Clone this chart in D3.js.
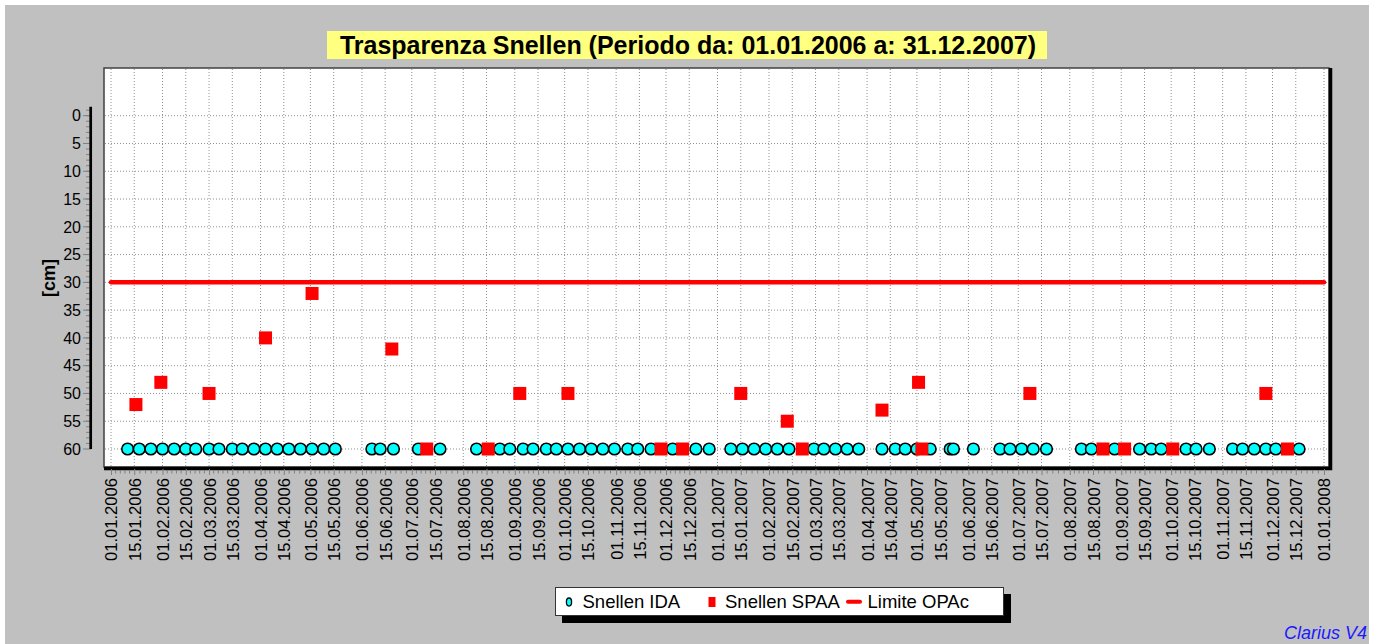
<!DOCTYPE html>
<html>
<head>
<meta charset="utf-8">
<script src="https://cdn.jsdelivr.net/npm/d3@7"></script>
<style>
  body { margin: 0; background: #fff; }
  text { font-family: "Liberation Sans", Arial, sans-serif; }
</style>
</head>
<body>
<script>
var width = 1375;
var height = 644;

// chart data
var titleText = "Trasparenza Snellen (Periodo da: 01.01.2006 a: 31.12.2007)";
var yLabel = "[cm]";
var legendLabels = ["Snellen IDA", "Snellen SPAA", "Limite OPAc"];

// Snellen IDA - every reading at the bottom (60 cm)
var idaDates = [
  "2006-01-11", "2006-01-18", "2006-01-25", "2006-02-01", "2006-02-08", "2006-02-15",
  "2006-02-21", "2006-03-01", "2006-03-07", "2006-03-15", "2006-03-21", "2006-03-28",
  "2006-04-04", "2006-04-11", "2006-04-18", "2006-04-25", "2006-05-02", "2006-05-09",
  "2006-05-16", "2006-06-07", "2006-06-12", "2006-06-20", "2006-07-05", "2006-07-18",
  "2006-08-09", "2006-08-23", "2006-08-29", "2006-09-06", "2006-09-12", "2006-09-20",
  "2006-09-26", "2006-10-03", "2006-10-10", "2006-10-17", "2006-10-24", "2006-10-31",
  "2006-11-08", "2006-11-14", "2006-11-22", "2006-12-05", "2006-12-19", "2006-12-27",
  "2007-01-09", "2007-01-16", "2007-01-23", "2007-01-30", "2007-02-06", "2007-02-13",
  "2007-02-28", "2007-03-06", "2007-03-13", "2007-03-20", "2007-03-27", "2007-04-10",
  "2007-04-18", "2007-04-24", "2007-05-01", "2007-05-09", "2007-05-21", "2007-05-23",
  "2007-06-04", "2007-06-20", "2007-06-26", "2007-07-03", "2007-07-10", "2007-07-18",
  "2007-08-08", "2007-08-14", "2007-08-28", "2007-09-12", "2007-09-19", "2007-09-25",
  "2007-10-10", "2007-10-16", "2007-10-24", "2007-11-07", "2007-11-13", "2007-11-20",
  "2007-11-27", "2007-12-03", "2007-12-17"
];
var idaValues = idaDates.map(function() { return 60; });

// Snellen SPAA
var spaaDates = [
  "2006-01-16", "2006-01-31", "2006-03-01", "2006-04-04", "2006-05-02", "2006-06-19",
  "2006-07-10", "2006-08-16", "2006-09-04", "2006-10-03", "2006-11-28", "2006-12-11",
  "2007-01-15", "2007-02-12", "2007-02-21", "2007-04-10", "2007-05-02", "2007-05-04",
  "2007-07-08", "2007-08-21", "2007-09-03", "2007-10-02", "2007-11-27", "2007-12-10"
];
var spaaValues = [
  52, 48, 50, 40, 32, 42,
  60, 60, 50, 50, 60, 60,
  50, 55, 60, 53, 48, 60,
  50, 60, 60, 60, 50, 60
];

// Limite OPAc
var limitValue = 30;
var limitRange = ["2006-01-01", "2008-01-01"];

var yTicks = [0, 5, 10, 15, 20, 25, 30, 35, 40, 45, 50, 55, 60];

var parseDate = d3.timeParse("%Y-%m-%d");
var fmtDate = d3.timeFormat("%d.%m.%Y");

// plot box
var plotLeft = 104, plotRight = 1329, plotTop = 68, plotBottom = 467;

function main() {
  var start = parseDate(limitRange[0]);
  var end = parseDate(limitRange[1]);

  var xScale = d3.scaleTime()
    .domain([start, end])
    .range([111, 1324]);

  var yScale = d3.scaleLinear()
    .domain([0, 60])
    .range([115.7, 449]);

  // ticks on the 1st and the 15th of every month
  var xTicks = [];
  d3.timeMonth.range(start, end).forEach(function(m) {
    xTicks.push(m);
    xTicks.push(new Date(m.getFullYear(), m.getMonth(), 15));
  });
  xTicks.push(end);

  var svg = d3.select("body")
    .append("svg")
    .attr("width", width)
    .attr("height", height);

  // background
  svg.append("rect")
    .attr("x", 5).attr("y", 5)
    .attr("width", 1364).attr("height", height)
    .attr("fill", "#c0c0c0");

  // title
  svg.append("rect")
    .attr("x", 327).attr("y", 31)
    .attr("width", 720).attr("height", 28)
    .attr("fill", "#ffff80");
  svg.append("text")
    .attr("x", 688).attr("y", 53.5)
    .attr("text-anchor", "middle")
    .attr("font-size", "25px")
    .attr("font-weight", "bold")
    .attr("fill", "#000")
    .text(titleText);

  // plot area with dark shadow on bottom and right
  svg.append("rect")
    .attr("x", plotLeft).attr("y", plotTop)
    .attr("width", plotRight - plotLeft).attr("height", plotBottom - plotTop)
    .attr("fill", "#fff")
    .attr("stroke", "#404040")
    .attr("stroke-width", 1.5);
  svg.append("path")
    .attr("d", "M" + plotLeft + "," + (plotBottom + 1.5) + "H" + (plotRight + 1.5) + "V" + plotTop)
    .attr("fill", "none")
    .attr("stroke", "#000")
    .attr("stroke-width", 3.5);

  // grid
  svg.append("g")
    .selectAll("line")
    .data(yTicks)
    .enter()
    .append("line")
    .attr("x1", plotLeft + 1).attr("x2", plotRight - 1)
    .attr("y1", function(d) { return yScale(d); })
    .attr("y2", function(d) { return yScale(d); })
    .attr("stroke", "#909090")
    .attr("stroke-dasharray", "1,2");
  svg.append("g")
    .selectAll("line")
    .data(xTicks)
    .enter()
    .append("line")
    .attr("x1", function(d) { return xScale(d); })
    .attr("x2", function(d) { return xScale(d); })
    .attr("y1", plotTop + 1).attr("y2", plotBottom - 1)
    .attr("stroke", "#909090")
    .attr("stroke-dasharray", "1,2");

  // y axis (separate from the plot box)
  var yAxis = svg.append("g");
  yAxis.selectAll("line.minor")
    .data(d3.range(-1, 60))
    .enter()
    .append("line")
    .attr("class", "minor")
    .attr("x1", 86).attr("x2", 91)
    .attr("y1", function(d) { return yScale(d); })
    .attr("y2", function(d) { return yScale(d); })
    .attr("stroke", "#808080");
  yAxis.selectAll("line.major")
    .data(yTicks)
    .enter()
    .append("line")
    .attr("class", "major")
    .attr("x1", 83).attr("x2", 91)
    .attr("y1", function(d) { return yScale(d); })
    .attr("y2", function(d) { return yScale(d); })
    .attr("stroke", "#808080");
  yAxis.append("line")
    .attr("x1", 90.7).attr("x2", 90.7)
    .attr("y1", yScale(-1.6)).attr("y2", yScale(60))
    .attr("stroke", "#000")
    .attr("stroke-width", 2.7);
  yAxis.selectAll("text")
    .data(yTicks)
    .enter()
    .append("text")
    .attr("x", 81)
    .attr("y", function(d) { return yScale(d); })
    .attr("dy", "0.36em")
    .attr("text-anchor", "end")
    .attr("font-size", "16px")
    .attr("fill", "#000")
    .text(function(d) { return d; });

  svg.append("text")
    .attr("transform", "translate(55,278) rotate(-90)")
    .attr("text-anchor", "middle")
    .attr("font-size", "18px")
    .attr("font-weight", "bold")
    .text(yLabel);

  // x axis
  var minorTicks = [];
  for (var i = 0; i < xTicks.length - 1; i++) {
    var a = xTicks[i].getTime(), b = xTicks[i + 1].getTime();
    for (var k = 1; k < 5; k++) minorTicks.push(new Date(a + (b - a) * k / 5));
  }
  svg.append("g")
    .selectAll("line")
    .data(minorTicks)
    .enter()
    .append("line")
    .attr("x1", function(d) { return xScale(d); })
    .attr("x2", function(d) { return xScale(d); })
    .attr("y1", 470).attr("y2", 473.5)
    .attr("stroke", "#808080");

  var xAxis = d3.axisBottom(xScale)
    .tickValues(xTicks)
    .tickFormat(fmtDate)
    .tickSize(6)
    .tickPadding(3);
  var gx = svg.append("g")
    .attr("transform", "translate(0,469)")
    .call(xAxis);
  gx.select(".domain").remove();
  gx.selectAll(".tick line").attr("stroke", "#808080");
  gx.selectAll(".tick text")
    .attr("transform", "rotate(-90)")
    .attr("x", -9)
    .attr("y", 0)
    .attr("dy", "0.36em")
    .attr("text-anchor", "end")
    .attr("font-family", "'Liberation Sans', Arial, sans-serif")
    .attr("font-size", "16.6px")
    .attr("fill", "#000");

  // limit line
  svg.append("line")
    .attr("x1", xScale(parseDate(limitRange[0])))
    .attr("x2", xScale(parseDate(limitRange[1])))
    .attr("y1", yScale(limitValue))
    .attr("y2", yScale(limitValue))
    .attr("stroke", "#ff0000")
    .attr("stroke-width", 4.5)
    .attr("stroke-linecap", "round");

  // IDA circles
  svg.append("g")
    .selectAll("circle")
    .data(idaDates)
    .enter()
    .append("circle")
    .attr("cx", function(d) { return xScale(parseDate(d)); })
    .attr("cy", function(d, i) { return yScale(idaValues[i]); })
    .attr("r", 5.8)
    .attr("fill", "#00ffff")
    .attr("stroke", "#000")
    .attr("stroke-width", 1.6);

  // SPAA squares
  var sq = 13;
  svg.append("g")
    .selectAll("rect")
    .data(spaaDates)
    .enter()
    .append("rect")
    .attr("x", function(d) { return xScale(parseDate(d)) - sq / 2; })
    .attr("y", function(d, i) { return yScale(spaaValues[i]) - sq / 2; })
    .attr("width", sq)
    .attr("height", sq)
    .attr("fill", "#ff0000");

  // legend
  svg.append("rect")
    .attr("x", 562).attr("y", 594)
    .attr("width", 449).attr("height", 29)
    .attr("fill", "#000");
  svg.append("rect")
    .attr("x", 555.5).attr("y", 587.5)
    .attr("width", 448).attr("height", 28)
    .attr("fill", "#fff")
    .attr("stroke", "#333")
    .attr("stroke-width", 1);
  svg.append("ellipse")
    .attr("cx", 569).attr("cy", 602)
    .attr("rx", 2.6).attr("ry", 4)
    .attr("fill", "#00ffff")
    .attr("stroke", "#000")
    .attr("stroke-width", 1.3);
  svg.append("rect")
    .attr("x", 708.5).attr("y", 597)
    .attr("width", 7).attr("height", 10)
    .attr("fill", "#ff0000");
  svg.append("line")
    .attr("x1", 848).attr("x2", 860)
    .attr("y1", 601.7).attr("y2", 601.7)
    .attr("stroke", "#ff0000")
    .attr("stroke-width", 4)
    .attr("stroke-linecap", "round");
  var legendX = [582.5, 725, 867.5];
  svg.append("g")
    .selectAll("text")
    .data(legendLabels)
    .enter()
    .append("text")
    .attr("x", function(d, i) { return legendX[i]; })
    .attr("y", 608)
    .attr("font-size", "18.5px")
    .attr("fill", "#000")
    .text(function(d) { return d; });

  // software tag
  svg.append("text")
    .attr("x", 1367).attr("y", 639)
    .attr("text-anchor", "end")
    .attr("font-size", "18px")
    .attr("font-style", "italic")
    .attr("fill", "#1a1aff")
    .text("Clarius V4");
}

main();
</script>
</body>
</html>
